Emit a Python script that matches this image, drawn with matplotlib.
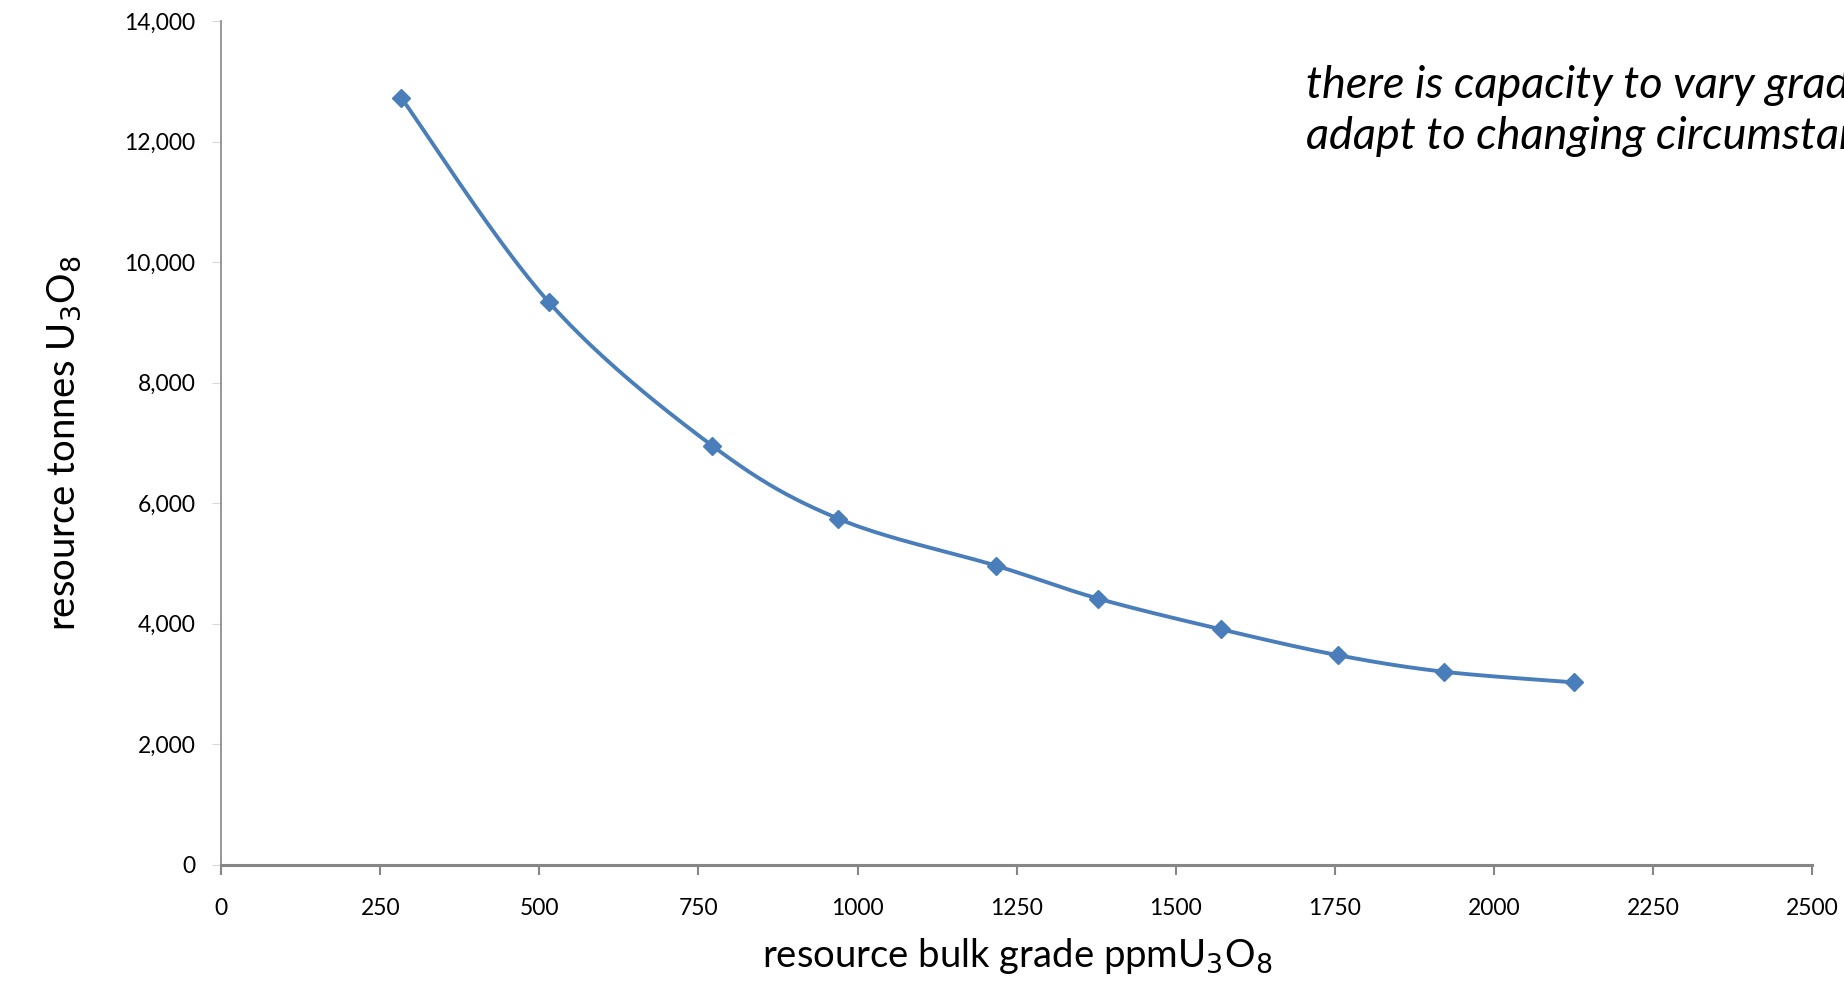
import numpy as np
import matplotlib
matplotlib.use("Agg")
import matplotlib.pyplot as plt
from matplotlib.ticker import FuncFormatter

# data
grade_ppm = [283, 515, 772, 970, 1218, 1378, 1571, 1755, 1922, 2125]
tonnes_u3o8 = [12730, 9335, 6950, 5740, 4960, 4415, 3905, 3475, 3200, 3025]

x_ticks = [0, 250, 500, 750, 1000, 1250, 1500, 1750, 2000, 2250, 2500]
y_ticks = [0, 2000, 4000, 6000, 8000, 10000, 12000, 14000]


def smooth_curve(x, y, n=40):
    # Excel style smoothed line: cubic Bezier with Catmull-Rom control points
    x = np.asarray(x, float)
    y = np.asarray(y, float)
    px, py = [], []
    for i in range(len(x) - 1):
        x0, y0 = (x[i - 1], y[i - 1]) if i > 0 else (x[i], y[i])
        x3, y3 = (x[i + 2], y[i + 2]) if i + 2 < len(x) else (x[i + 1], y[i + 1])
        c1x = x[i] + (x[i + 1] - x0) / 6
        c1y = y[i] + (y[i + 1] - y0) / 6
        c2x = x[i + 1] - (x3 - x[i]) / 6
        c2y = y[i + 1] - (y3 - y[i]) / 6
        t = np.linspace(0, 1, n)
        b0, b1, b2, b3 = (1 - t) ** 3, 3 * t * (1 - t) ** 2, 3 * t ** 2 * (1 - t), t ** 3
        px.extend(b0 * x[i] + b1 * c1x + b2 * c2x + b3 * x[i + 1])
        py.extend(b0 * y[i] + b1 * c1y + b2 * c2y + b3 * y[i + 1])
    return px, py


plt.rcParams['font.family'] = ['Lato', 'DejaVu Sans']

fig = plt.figure(figsize=(18.44, 9.81), dpi=100)
ax = fig.add_axes([0.1199, 0.1187, 0.8629, 0.8597])

blue = '#4A7EBB'
sx, sy = smooth_curve(grade_ppm, tonnes_u3o8)
ax.plot(sx, sy, color=blue, lw=2.8, solid_capstyle='round', zorder=2)
ax.plot(grade_ppm, tonnes_u3o8, linestyle='none', marker='D', markersize=9,
        color=blue, zorder=3)

ax.set_xlim(0, 2500)
ax.set_ylim(0, 14000)
ax.set_xticks(x_ticks)
ax.set_yticks(y_ticks)
ax.yaxis.set_major_formatter(FuncFormatter(lambda v, p: f'{int(v):,}'))

for side in ['top', 'right']:
    ax.spines[side].set_visible(False)
ax.spines['left'].set_color('#868686')
ax.spines['left'].set_linewidth(1.2)
ax.spines['bottom'].set_color('#868686')
ax.spines['bottom'].set_linewidth(2.2)

ax.tick_params(axis='x', direction='out', length=7, width=1.5, color='#868686',
               labelsize=16.5, pad=17)
ax.tick_params(axis='y', direction='out', length=6.5, width=0.8, color='#d9d9d9',
               labelsize=16.5, pad=12)

ax.set_xlabel(r'resource bulk grade ppmU$_3$O$_8$', fontsize=27.5, labelpad=12)
ax.set_ylabel(r'resource tonnes U$_3$O$_8$', fontsize=27.5, labelpad=30)

# the note runs off the right edge, as in the original slide
fig.text(0.708, 0.848, 'there is capacity to vary grade to\nadapt to changing circumstances',
         fontsize=32.5, style='italic', ha='left', va='baseline', linespacing=1.32)

fig.savefig('out.png', dpi=100)
